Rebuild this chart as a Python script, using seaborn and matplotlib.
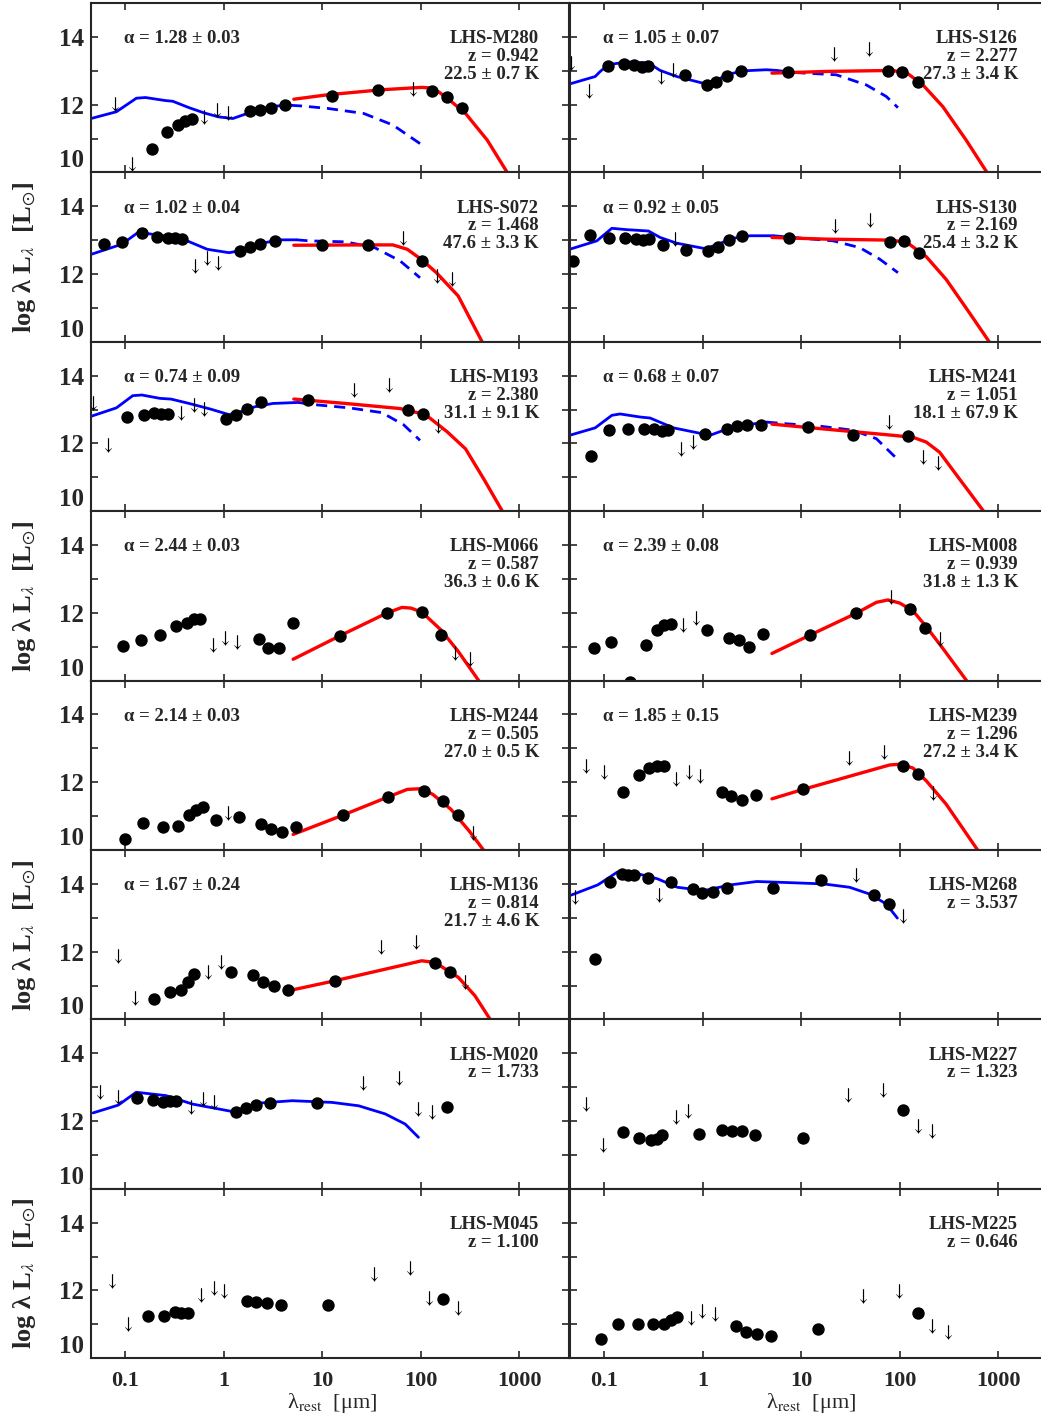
import numpy as np
import pandas as pd
import seaborn as sns
import matplotlib.pyplot as plt

# values: (log10 lambda_rest [um], log lambda L_lambda [Lsun])

# --- LHS-M280
M280_det = [(-0.731, 10.70), (-0.572, 11.20), (-0.461, 11.40), (-0.388, 11.52), (-0.325, 11.59),
            (0.269, 11.81), (0.365, 11.83), (0.476, 11.91), (0.620, 11.99), (1.096, 12.26),
            (1.569, 12.42), (2.115, 12.41), (2.266, 12.22), (2.418, 11.91)]
M280_lim = [(-1.107, 12.02), (-0.934, 10.26), (-0.196, 11.64), (-0.063, 11.84), (0.048, 11.76), (1.920, 12.46)]
M280_sed = [(-1.347, 11.59), (-1.089, 11.79), (-0.886, 12.19), (-0.794, 12.21), (-0.591, 12.12), (-0.517, 12.10),
            (-0.351, 11.91), (-0.203, 11.76), (-0.055, 11.64), (0.092, 11.59), (0.240, 11.74), (0.388, 11.89),
            (0.535, 11.96), (0.683, 11.98)]
M280_dash = [(0.683, 11.98), (0.794, 11.96), (1.052, 11.89), (1.421, 11.74), (1.717, 11.40), (1.993, 10.85)]
M280_bb = [(0.712, 12.16), (1.052, 12.29), (1.606, 12.44), (2.012, 12.51), (2.104, 12.49), (2.180, 12.38),
           (2.270, 12.19), (2.455, 11.74), (2.676, 10.95), (2.880, 9.99)]

# --- LHS-S126
S126_det = [(-0.956, 13.13), (-0.800, 13.20), (-0.696, 13.17), (-0.618, 13.10), (-0.550, 13.15), (-0.179, 12.88),
            (0.041, 12.58), (0.135, 12.68), (0.250, 12.85), (0.388, 12.98), (0.865, 12.95), (1.884, 13.00),
            (2.026, 12.95), (2.182, 12.66)]
S126_lim = [(-1.337, 13.23), (-1.158, 12.39), (-0.426, 12.83), (-0.297, 13.03), (1.331, 13.48), (1.689, 13.64)]
S126_sed = [(-1.351, 12.61), (-1.091, 12.83), (-1.040, 12.98), (-0.956, 13.18), (-0.770, 13.26), (-0.550, 13.23),
            (-0.432, 13.01), (-0.263, 12.83), (0.007, 12.63), (0.142, 12.73), (0.277, 12.91), (0.429, 13.00),
            (0.648, 13.03), (0.750, 13.01)]
S126_dash = [(0.750, 13.01), (0.919, 12.95), (1.358, 12.88), (1.662, 12.58), (1.864, 12.24), (1.982, 11.91)]
S126_bb = [(0.703, 12.93), (1.256, 12.98), (1.932, 13.01), (2.084, 12.91), (2.236, 12.58), (2.438, 11.94),
           (2.675, 10.95), (2.888, 9.99)]

# --- LHS-S072
S072_det = [(-1.211, 12.89), (-1.034, 12.96), (-0.831, 13.20), (-0.672, 13.10), (-0.565, 13.06), (-0.491, 13.06),
            (-0.425, 13.03), (0.166, 12.68), (0.266, 12.81), (0.373, 12.88), (0.520, 12.97), (0.993, 12.85),
            (1.465, 12.85), (2.012, 12.38)]
S072_lim = [(-0.295, 12.24), (-0.166, 12.46), (-0.055, 12.34), (1.816, 13.05), (2.167, 11.94), (2.318, 11.86)]
S072_sed = [(-1.347, 12.58), (-1.034, 12.88), (-0.868, 13.23), (-0.609, 13.13), (-0.388, 13.00), (-0.166, 12.73),
            (0.055, 12.63), (0.240, 12.73), (0.388, 12.91), (0.572, 13.01), (0.738, 13.01)]
S072_dash = [(0.738, 13.01), (0.867, 12.98), (1.237, 12.95), (1.532, 12.78), (1.790, 12.39), (1.993, 11.89)]
S072_bb = [(0.712, 12.85), (1.421, 12.86), (1.717, 12.86), (1.864, 12.73), (2.012, 12.42), (2.159, 12.04),
           (2.381, 11.35), (2.625, 9.99)]

# --- LHS-S130
S130_det = [(-1.317, 12.39), (-1.148, 13.16), (-0.946, 13.06), (-0.787, 13.05), (-0.675, 13.03), (-0.608, 13.01),
            (-0.540, 13.03), (-0.405, 12.85), (-0.169, 12.71), (0.057, 12.68), (0.152, 12.81), (0.263, 13.01),
            (0.399, 13.13), (0.878, 13.06), (1.898, 12.95), (2.047, 12.98), (2.195, 12.61)]
S130_lim = [(-0.280, 13.03), (1.344, 13.43), (1.702, 13.60)]
S130_sed = [(-1.351, 12.73), (-1.074, 12.98), (-0.922, 13.35), (-0.770, 13.31), (-0.550, 13.27), (-0.432, 13.08),
            (-0.263, 12.91), (0.024, 12.75), (0.159, 12.88), (0.294, 13.05), (0.480, 13.13), (0.716, 13.13)]
S130_dash = [(0.716, 13.13), (0.919, 13.08), (1.324, 12.98), (1.594, 12.78), (1.797, 12.44), (1.982, 12.04)]
S130_bb = [(0.703, 13.08), (1.256, 13.03), (1.932, 13.00), (2.084, 12.91), (2.270, 12.51), (2.472, 11.84),
           (2.709, 10.85), (2.911, 9.99)]

# --- LHS-M193
M193_det = [(-0.978, 12.78), (-0.812, 12.85), (-0.709, 12.89), (-0.635, 12.88), (-0.565, 12.88), (0.026, 12.71),
            (0.129, 12.85), (0.240, 13.03), (0.377, 13.21), (0.860, 13.27), (1.875, 12.99), (2.019, 12.87)]
M193_lim = [(-1.329, 13.18), (-1.174, 11.96), (-0.436, 12.91), (-0.306, 13.13), (-0.196, 13.03), (1.322, 13.57),
            (1.680, 13.72), (2.178, 12.50)]
M193_sed = [(-1.347, 12.80), (-1.089, 13.05), (-0.923, 13.41), (-0.831, 13.43), (-0.646, 13.33), (-0.535, 13.31),
            (-0.351, 13.18), (-0.129, 13.01), (0.055, 12.85), (0.166, 12.93), (0.314, 13.08), (0.498, 13.18),
            (0.757, 13.21)]
M193_dash = [(0.757, 13.21), (0.904, 13.15), (1.274, 13.05), (1.606, 12.91), (1.827, 12.55), (1.993, 12.09)]
M193_bb = [(0.712, 13.31), (1.237, 13.18), (1.790, 13.03), (2.049, 12.85), (2.270, 12.34), (2.455, 11.84),
           (2.640, 10.95), (2.831, 9.99)]

# --- LHS-M241
M241_det = [(-1.131, 11.64), (-0.952, 12.41), (-0.756, 12.44), (-0.594, 12.42), (-0.490, 12.44), (-0.415, 12.38),
            (-0.355, 12.39), (0.024, 12.28), (0.243, 12.42), (0.344, 12.50), (0.453, 12.55), (0.588, 12.55),
            (1.064, 12.48), (1.530, 12.26), (2.084, 12.22)]
M241_lim = [(-0.223, 11.84), (-0.095, 12.04), (1.891, 12.63), (2.236, 11.59), (2.388, 11.43)]
M241_sed = [(-1.351, 12.24), (-1.091, 12.46), (-0.922, 12.83), (-0.838, 12.87), (-0.635, 12.78), (-0.534, 12.75),
            (-0.297, 12.46), (-0.095, 12.34), (0.074, 12.24), (0.243, 12.42), (0.446, 12.55), (0.648, 12.63)]
M241_dash = [(0.648, 12.63), (0.851, 12.58), (1.189, 12.51), (1.527, 12.39), (1.763, 12.14), (1.982, 11.52)]
M241_bb = [(0.703, 12.57), (1.256, 12.42), (1.932, 12.24), (2.135, 12.18), (2.270, 12.04), (2.405, 11.74),
           (2.607, 10.95), (2.854, 9.99)]

# --- LHS-M066
M066_det = [(-1.023, 11.03), (-0.842, 11.19), (-0.646, 11.34), (-0.487, 11.62), (-0.377, 11.71), (-0.303, 11.81),
            (-0.240, 11.82), (0.354, 11.22), (0.454, 10.97), (0.565, 10.95), (0.705, 11.71), (1.185, 11.33),
            (1.654, 11.99), (2.012, 12.02), (2.204, 11.35)]
M066_lim = [(-0.111, 11.05), (0.018, 11.25), (0.137, 11.15), (2.351, 10.80), (2.503, 10.65)]
M066_bb = [(0.705, 10.63), (1.185, 11.33), (1.654, 11.99), (1.809, 12.16), (1.901, 12.14), (2.012, 12.02),
           (2.204, 11.50), (2.381, 10.86), (2.591, 9.99)]

# --- LHS-M008
M008_det = [(-1.108, 10.97), (-0.932, 11.15), (-0.736, 9.96), (-0.574, 11.05), (-0.466, 11.50), (-0.392, 11.64),
            (-0.324, 11.66), (0.047, 11.50), (0.270, 11.27), (0.365, 11.20), (0.473, 11.00), (0.615, 11.37),
            (1.094, 11.35), (1.560, 11.99), (2.107, 12.11), (2.256, 11.56)]
M008_lim = [(-0.196, 11.64), (-0.068, 11.84), (1.915, 12.46), (2.411, 11.23)]
M008_bb = [(0.703, 10.80), (1.094, 11.35), (1.560, 11.99), (1.763, 12.31), (1.881, 12.38), (1.999, 12.29),
           (2.134, 12.06), (2.270, 11.59), (2.438, 10.95), (2.681, 9.99)]

# --- LHS-M244
M244_det = [(-0.997, 10.33), (-0.819, 10.80), (-0.620, 10.68), (-0.461, 10.70), (-0.351, 11.02), (-0.277, 11.17),
            (-0.214, 11.28), (-0.081, 10.88), (0.159, 10.97), (0.380, 10.78), (0.480, 10.62), (0.591, 10.52),
            (0.731, 10.68), (1.211, 11.03), (1.672, 11.57), (2.034, 11.74), (2.226, 11.45), (2.374, 11.03)]
M244_lim = [(0.048, 11.10), (2.529, 10.50)]
M244_bb = [(0.705, 10.46), (1.211, 11.03), (1.672, 11.57), (1.864, 11.79), (2.012, 11.81), (2.123, 11.64),
           (2.307, 11.20), (2.492, 10.56), (2.640, 9.99)]

# --- LHS-M239
M239_det = [(-0.804, 11.71), (-0.645, 12.22), (-0.540, 12.42), (-0.466, 12.47), (-0.392, 12.49), (0.196, 11.72),
            (0.290, 11.59), (0.399, 11.49), (0.544, 11.63), (1.020, 11.79), (2.036, 12.49), (2.182, 12.24)]
M239_lim = [(-1.182, 12.49), (-1.006, 12.29), (-0.270, 12.09), (-0.138, 12.29), (-0.027, 12.19), (1.486, 12.73),
            (1.841, 12.88), (2.337, 11.69)]
M239_bb = [(0.703, 11.51), (1.020, 11.79), (1.898, 12.51), (1.999, 12.53), (2.134, 12.42), (2.270, 12.04),
           (2.472, 11.35), (2.793, 9.99)]

# --- LHS-M136
M136_det = [(-0.706, 10.60), (-0.544, 10.80), (-0.437, 10.87), (-0.362, 11.11), (-0.302, 11.34), (0.076, 11.39),
            (0.298, 11.31), (0.400, 11.11), (0.508, 10.98), (0.649, 10.87), (1.128, 11.14), (2.146, 11.67),
            (2.294, 11.41)]
M136_lim = [(-1.077, 11.88), (-0.902, 10.62), (-0.160, 11.41), (-0.031, 11.68), (1.593, 12.13), (1.957, 12.28),
            (2.449, 11.11)]
M136_bb = [(0.696, 10.87), (1.128, 11.14), (2.010, 11.73), (2.146, 11.68), (2.382, 11.24), (2.550, 10.70),
           (2.705, 10.00)]

# --- LHS-M268
M268_det = [(-1.098, 11.78), (-0.943, 14.07), (-0.823, 14.30), (-0.755, 14.27), (-0.695, 14.25), (-0.560, 14.17),
            (-0.318, 14.07), (-0.102, 13.85), (-0.002, 13.72), (0.105, 13.75), (0.247, 13.87), (0.718, 13.87),
            (1.196, 14.10), (1.734, 13.66), (1.889, 13.41)]
M268_lim = [(-1.300, 13.61), (-0.439, 13.66), (1.552, 14.25), (2.029, 13.06)]
M268_sed = [(-1.334, 13.67), (-1.065, 13.97), (-0.943, 14.20), (-0.866, 14.35), (-0.661, 14.30), (-0.459, 14.15),
            (-0.257, 13.90), (0.012, 13.80), (0.281, 13.97), (0.550, 14.07), (0.752, 14.05), (1.223, 14.00),
            (1.491, 13.90), (1.694, 13.70), (1.862, 13.41), (1.976, 12.99)]

# --- LHS-M020
M020_det = [(-0.881, 12.68), (-0.720, 12.62), (-0.612, 12.55), (-0.544, 12.60), (-0.483, 12.58), (0.123, 12.28),
            (0.224, 12.38), (0.332, 12.48), (0.467, 12.52), (0.952, 12.52), (2.267, 12.42)]
M020_lim = [(-1.259, 12.85), (-1.077, 12.70), (-0.335, 12.40), (-0.214, 12.65), (-0.099, 12.57), (1.410, 13.12),
            (1.775, 13.27), (1.970, 12.35), (2.112, 12.26)]
M020_sed = [(-1.326, 12.24), (-1.070, 12.47), (-0.888, 12.85), (-0.585, 12.75), (-0.315, 12.50), (0.089, 12.28),
            (0.359, 12.53), (0.696, 12.60), (1.100, 12.55), (1.370, 12.45), (1.640, 12.21), (1.843, 11.91),
            (1.977, 11.52)]

# --- LHS-M227
M227_det = [(-0.809, 11.69), (-0.647, 11.50), (-0.527, 11.45), (-0.466, 11.46), (-0.412, 11.58), (-0.035, 11.63),
            (0.194, 11.74), (0.294, 11.71), (0.395, 11.71), (0.536, 11.58), (1.021, 11.50), (2.029, 12.32)]
M227_lim = [(-1.185, 12.50), (-1.011, 11.30), (-0.271, 12.11), (-0.150, 12.29), (1.478, 12.77), (1.835, 12.93),
            (2.184, 11.86), (2.332, 11.71)]

# --- LHS-M045
M045_det = [(-0.767, 11.24), (-0.605, 11.24), (-0.490, 11.36), (-0.430, 11.32), (-0.362, 11.34), (0.238, 11.68),
            (0.332, 11.66), (0.440, 11.62), (0.582, 11.56), (1.054, 11.56), (2.226, 11.75)]
M045_lim = [(-1.137, 12.28), (-0.969, 11.02), (-0.234, 11.88), (-0.099, 12.08), (0.008, 11.98), (1.525, 12.50),
            (1.889, 12.67), (2.084, 11.78), (2.382, 11.49)]

# --- LHS-M225
M225_det = [(-1.037, 10.58), (-0.863, 11.00), (-0.661, 11.02), (-0.500, 11.02), (-0.392, 11.02), (-0.318, 11.14),
            (-0.257, 11.22), (0.334, 10.95), (0.436, 10.77), (0.550, 10.70), (0.691, 10.65), (1.169, 10.85),
            (2.184, 11.34)]
M225_lim = [(-0.123, 11.19), (-0.002, 11.39), (0.120, 11.29), (1.626, 11.83), (1.996, 11.98), (2.332, 10.95),
            (2.487, 10.77)]

# name, z, alpha, T_dust, detections, upper limits, SED (solid), SED (dashed), greybody
panels = [
    ("LHS-M280", "0.942", "1.28 ± 0.03", "22.5 ± 0.7 K", M280_det, M280_lim, M280_sed, M280_dash, M280_bb),
    ("LHS-S126", "2.277", "1.05 ± 0.07", "27.3 ± 3.4 K", S126_det, S126_lim, S126_sed, S126_dash, S126_bb),
    ("LHS-S072", "1.468", "1.02 ± 0.04", "47.6 ± 3.3 K", S072_det, S072_lim, S072_sed, S072_dash, S072_bb),
    ("LHS-S130", "2.169", "0.92 ± 0.05", "25.4 ± 3.2 K", S130_det, S130_lim, S130_sed, S130_dash, S130_bb),
    ("LHS-M193", "2.380", "0.74 ± 0.09", "31.1 ± 9.1 K", M193_det, M193_lim, M193_sed, M193_dash, M193_bb),
    ("LHS-M241", "1.051", "0.68 ± 0.07", "18.1 ± 67.9 K", M241_det, M241_lim, M241_sed, M241_dash, M241_bb),
    ("LHS-M066", "0.587", "2.44 ± 0.03", "36.3 ± 0.6 K", M066_det, M066_lim, [], [], M066_bb),
    ("LHS-M008", "0.939", "2.39 ± 0.08", "31.8 ± 1.3 K", M008_det, M008_lim, [], [], M008_bb),
    ("LHS-M244", "0.505", "2.14 ± 0.03", "27.0 ± 0.5 K", M244_det, M244_lim, [], [], M244_bb),
    ("LHS-M239", "1.296", "1.85 ± 0.15", "27.2 ± 3.4 K", M239_det, M239_lim, [], [], M239_bb),
    ("LHS-M136", "0.814", "1.67 ± 0.24", "21.7 ± 4.6 K", M136_det, M136_lim, [], [], M136_bb),
    ("LHS-M268", "3.537", None, None, M268_det, M268_lim, M268_sed, [], []),
    ("LHS-M020", "1.733", None, None, M020_det, M020_lim, M020_sed, [], []),
    ("LHS-M227", "1.323", None, None, M227_det, M227_lim, [], [], []),
    ("LHS-M045", "1.100", None, None, M045_det, M045_lim, [], [], []),
    ("LHS-M225", "0.646", None, None, M225_det, M225_lim, [], [], []),
]


def to_df(pts):
    df = pd.DataFrame(pts, columns=["loglam", "logL"])
    df["lam"] = 10 ** df["loglam"]
    return df


sns.set_style("ticks")
plt.rcParams["font.family"] = ["Liberation Serif", "DejaVu Serif"]
plt.rcParams["mathtext.fontset"] = "stix"

W, H = 1041, 1426
fig = plt.figure(figsize=(W / 100, H / 100), dpi=100)

row_h = 169.4
ax_w = 478
col_x = [91, 570]
top0 = 3

for i, (name, z, alpha, temp, det, lim, sed, dash, bb) in enumerate(panels):
    r, c = divmod(i, 2)
    bottom_px = top0 + row_h * (r + 1)
    ax = fig.add_axes([col_x[c] / W, 1 - bottom_px / H, ax_w / W, row_h / H])

    if sed:
        d = to_df(sed)
        sns.lineplot(data=d, x="lam", y="logL", sort=False, estimator=None, color="blue", lw=2.0, ax=ax)
    if dash:
        d = to_df(dash)
        sns.lineplot(data=d, x="lam", y="logL", sort=False, estimator=None, color="blue", lw=2.0,
                     linestyle=(0, (4, 2.5)), ax=ax)
    if bb:
        d = to_df(bb)
        sns.lineplot(data=d, x="lam", y="logL", sort=False, estimator=None, color="red", lw=2.4, ax=ax)
    d = to_df(det)
    sns.scatterplot(data=d, x="lam", y="logL", color="black", s=80, linewidth=0, ax=ax, zorder=5)
    d = to_df(lim)
    sns.scatterplot(data=d, x="lam", y="logL", color="black", marker=r"$\downarrow$", s=110, linewidth=0,
                    ax=ax, zorder=5)

    ax.set_xscale("log")
    ax.set_xlim(0.045, 3200)
    ax.set_ylim(10, 15)
    ax.set_xticks([0.1, 1, 10, 100, 1000])
    ax.set_xticklabels(["0.1", "1", "10", "100", "1000"])
    ax.xaxis.set_minor_locator(plt.NullLocator())
    ax.set_yticks([10, 11, 12, 13, 14, 15])
    ax.set_yticklabels(["10", "", "12", "", "14", ""])
    ax.tick_params(direction="in", top=True, right=True, length=5, width=1.2, pad=5)
    ax.tick_params(axis="y", labelsize=18)
    ax.tick_params(axis="x", labelsize=16, pad=9)
    for lab in ax.get_xticklabels() + ax.get_yticklabels():
        lab.set_fontweight("bold")
    ax.get_yticklabels()[0].set_va("bottom")
    if c == 1:
        ax.tick_params(labelleft=False)
    if r < 7:
        ax.tick_params(labelbottom=False)
    for sp in ax.spines.values():
        sp.set_linewidth(1.5)
    ax.set_xlabel("")
    ax.set_ylabel("")

    info = name + "\nz = " + z
    if temp:
        info += "\n" + temp
    ax.text(0.937, 0.84, info, transform=ax.transAxes, ha="right", va="top",
            fontsize=13.5, fontweight="bold", linespacing=1.07)
    if alpha:
        ax.text(0.07, 0.84, "α = " + alpha, transform=ax.transAxes, ha="left", va="top",
                fontsize=13.5, fontweight="bold")

# shared axis titles
for r in [1, 3, 5, 7]:
    yc = top0 + row_h * (r + 0.5)
    fig.text(25 / W, 1 - yc / H, r"log λ L$_{\lambda}$  [L$_{\odot}$]", rotation=90,
             ha="center", va="center", fontsize=19, fontweight="bold")
for xc in [332, 811]:
    fig.text(xc / W, 1 - 1403 / H, r"λ$_{\rm rest}$  [μm]", ha="center", va="center", fontsize=16)

fig.savefig("out.png", dpi=100)
